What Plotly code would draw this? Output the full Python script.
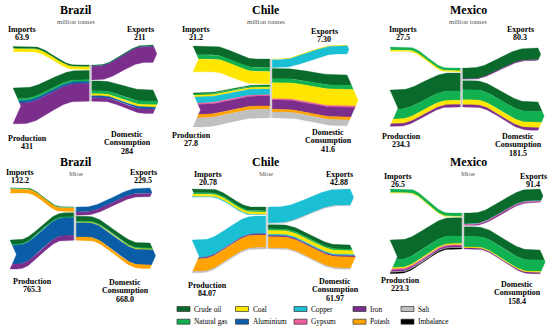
import numpy as np
import plotly.graph_objects as go

# ---------------- data ----------------
COMMODITIES = ["Crude oil", "Natural gas", "Coal", "Aluminium", "Copper",
               "Gypsum", "Iron", "Potash", "Salt", "Imbalance"]
COLORS = ["#0a6a2c", "#11b050", "#ffe600", "#0a5ea8", "#1bbfd3",
          "#f0609e", "#7b2e8c", "#ffa300", "#c0c0c0", "#000000"]

# order of values follows COMMODITIES
BRAZIL_MT_IMPORTS = [24, 2, 37.9, 0, 0, 0, 0, 0, 0, 0]
BRAZIL_MT_PRODUCTION = [130, 25, 0, 28, 0, 0, 248, 0, 0, 0]
BRAZIL_MT_EXPORTS = [14, 0, 0, 4, 0, 0, 193, 0, 0, 0]
BRAZIL_MT_DOMESTIC = [138, 41, 28, 24, 0, 0, 53, 0, 0, 0]
BRAZIL_MT_LABELS = ["63.9", "431", "211", "284"]

CHILE_MT_IMPORTS = [7.2, 3.4, 10.6, 0, 0, 0, 0, 0, 0, 0]
CHILE_MT_PRODUCTION = [0.8, 1.1, 1.4, 0, 5.0, 1.1, 8.3, 2.8, 7.3, 0]
CHILE_MT_EXPORTS = [0, 0, 0.6, 0, 6.7, 0, 0, 0, 0, 0]
CHILE_MT_DOMESTIC = [8.5, 3.4, 13.6, 0, 0, 1.1, 7.9, 2.3, 4.8, 0]
CHILE_MT_LABELS = ["21.2", "27.8", "7.30", "41.6"]

MEXICO_MT_IMPORTS = [0, 19, 8.5, 0, 0, 0, 0, 0, 0, 0]
MEXICO_MT_PRODUCTION = [124, 64, 30, 0, 0, 0, 16.3, 0, 0, 0]
MEXICO_MT_EXPORTS = [76, 0, 0, 0, 0, 0, 4.3, 0, 0, 0]
MEXICO_MT_DOMESTIC = [62, 70, 34, 0, 0, 0, 15.5, 0, 0, 0]
MEXICO_MT_LABELS = ["27.5", "234.3", "80.3", "181.5"]

BRAZIL_MTOE_IMPORTS = [18, 10, 0, 0, 0, 0, 0, 104.2, 0, 0]
BRAZIL_MTOE_PRODUCTION = [113, 26, 0, 496, 0, 0, 130.3, 0, 0, 0]
BRAZIL_MTOE_EXPORTS = [0, 0, 0, 137.5, 0, 0, 92, 0, 0, 0]
BRAZIL_MTOE_DOMESTIC = [134, 27, 18, 400, 0, 0, 0, 89, 0, 0]
BRAZIL_MTOE_LABELS = ["132.2", "765.3", "229.5", "668.0"]

CHILE_MTOE_IMPORTS = [9.5, 3.5, 6.0, 0, 1.78, 0, 0, 0, 0, 0]
CHILE_MTOE_PRODUCTION = [0, 0, 0, 0, 45.3, 0, 3.3, 32.17, 3.3, 0]
CHILE_MTOE_EXPORTS = [0, 0, 0, 0, 41.5, 0, 0, 0, 1.38, 0]
CHILE_MTOE_DOMESTIC = [10.6, 4.0, 9.8, 0, 3.3, 0, 3.3, 28.5, 2.47, 0]
CHILE_MTOE_LABELS = ["20.78", "84.07", "42.88", "61.97"]

MEXICO_MTOE_IMPORTS = [0, 24, 2.5, 0, 0, 0, 0, 0, 0, 0]
MEXICO_MTOE_PRODUCTION = [130, 55, 8, 0, 0, 8, 11, 0, 4, 7.3]
MEXICO_MTOE_EXPORTS = [78, 0, 0, 0, 2.4, 6, 5, 0, 0, 0]
MEXICO_MTOE_DOMESTIC = [68, 76, 7, 0, 0, 0, 7.4, 0, 0, 0]
MEXICO_MTOE_LABELS = ["26.5", "223.3", "91.4", "158.4"]

# ---------------- layout of the panels (pixel geometry) ----------------
PANELS = [
    dict(title="Brazil", unit="million tonnes",
         flows=(BRAZIL_MT_IMPORTS, BRAZIL_MT_PRODUCTION, BRAZIL_MT_EXPORTS, BRAZIL_MT_DOMESTIC),
         labels=BRAZIL_MT_LABELS,
         xL=13, xC=90.5, xR=153, yIL=46.5, yPL=88, yC=65, yER=45, yDR=90, sE=0.083, sC=0.071,
         tpos=(76, 9.5, 21), ipos=(22, 29), epos=(140, 29), ppos=(27, 138), dpos=(127, 134)),
    dict(title="Chile", unit="million tonnes",
         flows=(CHILE_MT_IMPORTS, CHILE_MT_PRODUCTION, CHILE_MT_EXPORTS, CHILE_MT_DOMESTIC),
         labels=CHILE_MT_LABELS,
         xL=193, xC=271, xR=347, yIL=46, yPL=93, yC=59, yER=45, yDR=75, sE=1.22, sC=1.18,
         tpos=(266, 9.5, 21), ipos=(196, 29), epos=(324, 31), ppos=(191, 135), dpos=(328, 132)),
    dict(title="Mexico", unit="million tonnes",
         flows=(MEXICO_MT_IMPORTS, MEXICO_MT_PRODUCTION, MEXICO_MT_EXPORTS, MEXICO_MT_DOMESTIC),
         labels=MEXICO_MT_LABELS,
         xL=390, xC=461.5, xR=538, yIL=47, yPL=90, yC=68, yER=48, yDR=102, sE=0.155, sC=0.145,
         tpos=(468, 10, 21), ipos=(403, 29), epos=(520, 29), ppos=(401, 136), dpos=(518, 136)),
    dict(title="Brazil", unit="Mtoe",
         flows=(BRAZIL_MTOE_IMPORTS, BRAZIL_MTOE_PRODUCTION, BRAZIL_MTOE_EXPORTS, BRAZIL_MTOE_DOMESTIC),
         labels=BRAZIL_MTOE_LABELS,
         xL=10, xC=75, xR=150, yIL=188, yPL=240, yC=207, yER=188, yDR=243, sE=0.038, sC=0.036,
         tpos=(76, 162, 173), ipos=(20, 172), epos=(143, 172), ppos=(32, 281), dpos=(125, 282)),
    dict(title="Chile", unit="Mtoe",
         flows=(CHILE_MTOE_IMPORTS, CHILE_MTOE_PRODUCTION, CHILE_MTOE_EXPORTS, CHILE_MTOE_DOMESTIC),
         labels=CHILE_MTOE_LABELS,
         xL=192, xC=267, xR=350, yIL=189, yPL=240, yC=207, yER=189, yDR=245, sE=0.39, sC=0.39,
         tpos=(266, 162, 173), ipos=(208, 174), epos=(339, 174), ppos=(207, 285), dpos=(335, 281)),
    dict(title="Mexico", unit="Mtoe",
         flows=(MEXICO_MTOE_IMPORTS, MEXICO_MTOE_PRODUCTION, MEXICO_MTOE_EXPORTS, MEXICO_MTOE_DOMESTIC),
         labels=MEXICO_MTOE_LABELS,
         xL=390, xC=463, xR=540, yIL=189, yPL=240, yC=213, yER=189, yDR=250, sE=0.15, sC=0.14,
         tpos=(468, 162, 173), ipos=(398, 176), epos=(533, 176), ppos=(400, 280), dpos=(517, 284)),
]

FONT = "Liberation Serif, Times New Roman, serif"
TIP = 0.22
HALF_GAP = 1.2
STACK_GAP = 1.0
LINE_STEP = 8.5


def ease(t, f0, f1):
    u = np.clip((t - f0) / (f1 - f0), 0, 1)
    return (1 - np.cos(np.pi * u)) / 2


def add_band(fig, vals, x_end, x_cen, y_end, y_cen, sE, sC, f0, f1):
    vals = np.asarray(vals, float)
    total = vals.sum()
    h = total * sE
    ymid = y_end + h / 2
    d = TIP * h
    t = np.linspace(0, 1, 90)
    x = x_end + (x_cen - x_end) * t
    s = ease(t, f0, f1)
    left = x_cen > x_end

    def edge_x(y):
        return x_end + d * (1 - abs(y - ymid) / (h / 2))

    cum = np.concatenate([[0], np.cumsum(vals)])
    for i, v in enumerate(vals):
        if v <= 0:
            continue
        c0, c1 = cum[i], cum[i + 1]
        yt = y_end + c0 * sE + ((y_cen + c0 * sC) - (y_end + c0 * sE)) * s
        yb = y_end + c1 * sE + ((y_cen + c1 * sC) - (y_end + c1 * sE)) * s
        et, eb = yt[0], yb[0]
        xte, xbe = edge_x(et), edge_x(eb)
        if left:
            kt = x > xte
            kb = x > xbe
        else:
            kt = t > 0
            kb = t > 0
        px = [xte] + list(x[kt]) + list(x[kb][::-1]) + [xbe]
        py = [et] + list(yt[kt]) + list(yb[kb][::-1]) + [eb]
        if et < ymid < eb:
            px.append(x_end + d)
            py.append(ymid)
        px.append(xte)
        py.append(et)
        col = COLORS[i]
        fig.add_trace(go.Scatter(x=px, y=py, mode="lines", fill="toself",
                                 fillcolor=col, line=dict(color=col, width=0.3),
                                 hoverinfo="skip", showlegend=False))
    return total


fig = go.Figure()
annotations = []
shapes = []


def text(x, y, s, size=8, bold=True, color="black", xanchor="center"):
    annotations.append(dict(x=x, y=y, xref="x", yref="y", text=f"<b>{s}</b>" if bold else s,
                            showarrow=False, xanchor=xanchor, yanchor="middle",
                            font=dict(family=FONT, size=size, color=color)))


for p in PANELS:
    imp, prod, exp, dom = p["flows"]
    xl_c = p["xC"] - HALF_GAP
    xr_c = p["xC"] + HALF_GAP
    # left side: imports and production flowing into the centre
    ti = add_band(fig, imp, p["xL"], xl_c, p["yIL"], p["yC"], p["sE"], p["sC"], 0.25, 0.82)
    y_prod_c = p["yC"] + ti * p["sC"] + STACK_GAP
    tp = add_band(fig, prod, p["xL"], xl_c, p["yPL"], y_prod_c, p["sE"], p["sC"], 0.12, 0.85)
    # right side: exports and domestic consumption leaving the centre
    te = add_band(fig, exp, p["xR"], xr_c, p["yER"], p["yC"], p["sE"], p["sC"], 0.12, 0.9)
    y_dom_c = p["yC"] + te * p["sC"] + STACK_GAP
    td = add_band(fig, dom, p["xR"], xr_c, p["yDR"], y_dom_c, p["sE"], p["sC"], 0.12, 0.85)
    bottom = max(y_prod_c + tp * p["sC"], y_dom_c + td * p["sC"])
    shapes.append(dict(type="line", xref="x", yref="y", x0=p["xC"], x1=p["xC"],
                       y0=p["yC"], y1=bottom, line=dict(color="#c9c9c9", width=1.5)))

    tx, ty, uy = p["tpos"]
    text(tx, ty, p["title"], size=12)
    text(tx, uy, p["unit"], size=6.6, bold=False, color="#555555")
    li, lp, le, ld = p["labels"]
    x, y = p["ipos"]
    text(x, y, "Imports"); text(x, y + LINE_STEP, li)
    x, y = p["epos"]
    text(x, y, "Exports"); text(x, y + LINE_STEP, le)
    x, y = p["ppos"]
    text(x, y, "Production"); text(x, y + LINE_STEP, lp)
    x, y = p["dpos"]
    text(x, y, "Domestic"); text(x, y + LINE_STEP, "Consumption"); text(x, y + 2 * LINE_STEP, ld)

# ---------------- legend (column-major 5 x 2 grid) ----------------
LEG_COL_X = [177, 235.5, 294, 353, 401]
LEG_ROW_Y = [309, 321.7]
for k, (name, col) in enumerate(zip(COMMODITIES, COLORS)):
    c, r = k // 2, k % 2
    x0, yc = LEG_COL_X[c], LEG_ROW_Y[r]
    shapes.append(dict(type="rect", xref="x", yref="y", x0=x0, x1=x0 + 13,
                       y0=yc - 2.5, y1=yc + 2.5, fillcolor=col,
                       line=dict(color="#333333", width=0.7)))
    text(x0 + 15, yc, name, size=7.3, bold=False, xanchor="left")

fig.update_layout(
    width=550, height=333,
    margin=dict(l=0, r=0, t=0, b=0),
    paper_bgcolor="white", plot_bgcolor="white",
    xaxis=dict(range=[0, 550], visible=False, fixedrange=True),
    yaxis=dict(range=[333, 0], visible=False, fixedrange=True),
    annotations=annotations, shapes=shapes, showlegend=False,
)
fig.write_html("out.html", config={"displayModeBar": False},
               post_script="document.body.style.margin='0';document.body.style.padding='0';")
